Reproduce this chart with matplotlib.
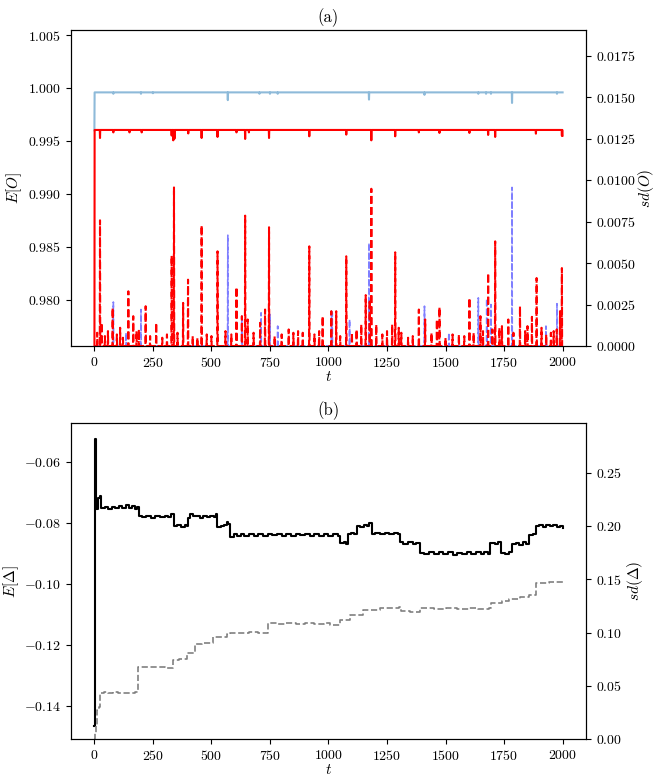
"""Two-panel twin-axis time series: E[O]/sd(O) and E[Delta]/sd(Delta)."""

import matplotlib

matplotlib.use("Agg")
import matplotlib.pyplot as plt
import numpy as np

plt.rcParams["font.family"] = "serif"
plt.rcParams["font.serif"] = ["cmr10", "DejaVu Serif"]
plt.rcParams["mathtext.fontset"] = "cm"
plt.rcParams["axes.formatter.use_mathtext"] = True
plt.rcParams["font.size"] = 10

T_MAX = 2000

# panel (a): means (left axis)
blue_mean_start = 0.9960
blue_mean_level = 0.99958
blue_dip_t = [81, 199, 250, 570, 705, 750, 783, 1173, 1410, 1640, 1673, 1694, 1784, 1976]
blue_dip_v = [0.99945, 0.99945, 0.9995, 0.99885, 0.99945, 0.99945, 0.99945,
              0.9989, 0.99935, 0.99945, 0.99945, 0.99945, 0.99858, 0.99945]

red_mean_start = 0.9700
red_mean_level = 0.99603
red_dip_t = [24, 81, 150, 202, 330, 337, 342, 401, 458, 526, 607, 644, 660, 746, 918,
             1076, 1183, 1285, 1386, 1474, 1602, 1682, 1712, 1886, 1997, 2000]
red_dip_v = [0.99527, 0.9958, 0.9958, 0.9958, 0.9955, 0.99505, 0.9952, 0.9957, 0.99527,
             0.99537, 0.9958, 0.99518, 0.9958, 0.99527, 0.99543, 0.99559, 0.99505,
             0.99543, 0.9958, 0.99575, 0.99575, 0.99556, 0.99537, 0.99568, 0.99549, 0.9955]

# panel (a): standard deviations (right axis), spikes on a zero baseline
red_sd_t = [24, 31, 78, 145, 166, 219, 264, 330, 340, 379, 400, 458, 526, 607, 630, 644,
            655, 708, 729, 746, 918, 975, 1012, 1033, 1076, 1140, 1159, 1176, 1183, 1204,
            1272, 1285, 1311, 1386, 1413, 1463, 1474, 1557, 1602, 1649, 1682, 1712, 1741,
            1768, 1818, 1869, 1889, 1910, 1962, 1989, 1997]
red_sd_v = [0.00758, 0.0014, 0.0023, 0.0033, 0.0018, 0.0024, 0.0014, 0.00545, 0.00956,
            0.0026, 0.0040, 0.00728, 0.00571, 0.00355, 0.0018, 0.00786, 0.0016, 0.0014,
            0.0022, 0.00716, 0.00601, 0.0018, 0.0021, 0.0021, 0.00541, 0.0013, 0.00307,
            0.0028, 0.00948, 0.0013, 0.0013, 0.00565, 0.0008, 0.0022, 0.0016, 0.0016,
            0.00235, 0.0007, 0.0029, 0.0018, 0.0044, 0.00631, 0.0012, 0.0016, 0.0024,
            0.00176, 0.0041, 0.0011, 0.0009, 0.0021, 0.0047]
red_sd_small_t = [12, 45, 58, 96, 110, 122, 180, 190, 238, 290, 310, 355, 420, 440, 480,
                  500, 560, 585, 680, 770, 800, 830, 850, 870, 890, 940, 960, 1050, 1100,
                  1120, 1230, 1250, 1300, 1340, 1360, 1440, 1500, 1530, 1580, 1620, 1660,
                  1700, 1730, 1790, 1840, 1850, 1930, 1950, 1975]
red_sd_small_v = [0.0008, 0.0006, 0.0009, 0.0007, 0.0011, 0.0005, 0.0009, 0.0010, 0.0006,
                  0.0005, 0.0007, 0.0008, 0.0006, 0.0005, 0.0007, 0.0006, 0.0009, 0.0007,
                  0.0008, 0.0006, 0.0007, 0.0010, 0.0008, 0.0009, 0.0008, 0.0007, 0.0009,
                  0.0006, 0.0008, 0.0010, 0.0007, 0.0009, 0.0011, 0.0005, 0.0006, 0.0008,
                  0.0005, 0.0007, 0.0006, 0.0008, 0.0009, 0.0010, 0.0011, 0.0008, 0.0009,
                  0.0012, 0.0007, 0.0008, 0.0010]

blue_sd_t = [81, 135, 199, 570, 630, 712, 750, 783, 1013, 1016, 1090, 1173, 1410, 1514,
             1640, 1676, 1694, 1784, 1929, 1976]
blue_sd_v = [0.00265, 0.0008, 0.0022, 0.00668, 0.0018, 0.0020, 0.0019, 0.0012, 0.0021,
             0.0020, 0.0016, 0.00621, 0.0024, 0.0008, 0.0029, 0.00285, 0.0025, 0.00956,
             0.0012, 0.00255]

# panel (b): E[Delta] (left axis), step knots
delta_mean_t = [0, 1, 6, 14, 22, 30, 45, 60, 75, 90, 105, 120, 135, 148, 160, 172, 182,
                192, 205, 220, 240, 260, 280, 300, 315, 328, 338, 355, 370, 385, 395, 402,
                410, 420, 435, 450, 465, 480, 495, 510, 518, 524, 540, 555, 565, 572, 580,
                595, 610, 625, 640, 660, 680, 700, 720, 740, 760, 780, 800, 820, 840, 860,
                880, 900, 920, 940, 960, 980, 1000, 1020, 1040, 1050, 1065, 1075, 1082,
                1095, 1108, 1120, 1135, 1150, 1165, 1175, 1185, 1200, 1220, 1240, 1260,
                1280, 1295, 1305, 1320, 1340, 1360, 1375, 1390, 1410, 1430, 1450, 1470,
                1490, 1510, 1530, 1550, 1570, 1590, 1610, 1630, 1650, 1665, 1680, 1692,
                1710, 1725, 1738, 1755, 1770, 1785, 1800, 1815, 1830, 1845, 1858, 1872,
                1885, 1900, 1915, 1930, 1945, 1960, 1975, 1990, 2000]
delta_mean_v = [-0.1465, -0.0525, -0.0755, -0.0718, -0.0712, -0.0752, -0.0748, -0.0756,
                -0.0747, -0.0753, -0.0745, -0.0752, -0.0742, -0.0750, -0.0744, -0.0756,
                -0.0749, -0.0776, -0.0781, -0.0777, -0.0783, -0.0778, -0.0781, -0.0776,
                -0.0780, -0.0772, -0.0812, -0.0808, -0.0813, -0.0806, -0.0812, -0.0784,
                -0.0772, -0.0779, -0.0776, -0.0784, -0.0777, -0.0781, -0.0776, -0.0781,
                -0.0772, -0.0815, -0.0810, -0.0806, -0.0796, -0.0803, -0.0845, -0.0838,
                -0.0843, -0.0838, -0.0842, -0.0837, -0.0843, -0.0838, -0.0843, -0.0837,
                -0.0841, -0.0836, -0.0842, -0.0838, -0.0843, -0.0838, -0.0841, -0.0837,
                -0.0843, -0.0838, -0.0842, -0.0837, -0.0842, -0.0838, -0.0842, -0.0866,
                -0.0862, -0.0868, -0.0838, -0.0832, -0.0836, -0.0810, -0.0813, -0.0806,
                -0.0812, -0.0802, -0.0836, -0.0833, -0.0838, -0.0832, -0.0837, -0.0833,
                -0.0838, -0.0862, -0.0868, -0.0863, -0.0870, -0.0866, -0.0898, -0.0902,
                -0.0896, -0.0903, -0.0897, -0.0901, -0.0896, -0.0904, -0.0898, -0.0902,
                -0.0897, -0.0903, -0.0897, -0.0901, -0.0896, -0.0902, -0.0866, -0.0870,
                -0.0864, -0.0900, -0.0903, -0.0896, -0.0869, -0.0866, -0.0871, -0.0864,
                -0.0869, -0.0840, -0.0836, -0.0812, -0.0808, -0.0813, -0.0806, -0.0812,
                -0.0808, -0.0814, -0.0810, -0.0818]

# panel (b): sd(Delta) (right axis)
delta_sd_t = [0, 3, 6, 10, 18, 25, 40, 60, 80, 100, 120, 140, 160, 175, 188, 220, 260,
              300, 337, 360, 394, 430, 460, 490, 507, 540, 565, 578, 620, 660, 700, 742,
              780, 820, 860, 900, 940, 980, 1005, 1048, 1090, 1147, 1218, 1260, 1300, 1311,
              1350, 1389, 1450, 1500, 1550, 1600, 1640, 1687, 1694, 1740, 1773, 1820, 1858,
              1886, 1940, 2000]
delta_sd_v = [0.0, 0.006, 0.012, 0.0275, 0.030, 0.043, 0.0445, 0.0430, 0.0440, 0.0432,
              0.0438, 0.0430, 0.0436, 0.0440, 0.068, 0.0675, 0.0678, 0.0672, 0.0745,
              0.0750, 0.081, 0.0895, 0.0900, 0.0905, 0.0960, 0.0955, 0.0990, 0.1000,
              0.0995, 0.1002, 0.0998, 0.1088, 0.1084, 0.1090, 0.1082, 0.1088, 0.1080,
              0.1087, 0.1070, 0.1120, 0.1166, 0.1210, 0.1235, 0.1230, 0.1240, 0.1200,
              0.1195, 0.1230, 0.1225, 0.1232, 0.1226, 0.1232, 0.1222, 0.1235, 0.1280,
              0.1295, 0.1320, 0.1330, 0.1350, 0.1470, 0.1475, 0.1465]


def build_series(level, start, idx, vals):
    s = np.full(T_MAX + 1, level, dtype=float)
    s[0] = start
    s[np.asarray(idx)] = vals
    return s


def spikes(pairs):
    s = np.zeros(T_MAX + 1)
    for idx, vals in pairs:
        s[np.asarray(idx)] = vals
    return s


t = np.arange(T_MAX + 1)
blue_mean = build_series(blue_mean_level, blue_mean_start, blue_dip_t, blue_dip_v)
red_mean = build_series(red_mean_level, red_mean_start, red_dip_t, red_dip_v)
red_sd = spikes([(red_sd_small_t, red_sd_small_v), (red_sd_t, red_sd_v)])
blue_sd = spikes([(blue_sd_t, blue_sd_v)])

fig = plt.figure(figsize=(6.56, 7.76), dpi=100)
ax1 = fig.add_axes([0.1082, 0.5541, 0.7851, 0.4072])
ax2 = fig.add_axes([0.1082, 0.0473, 0.7851, 0.4072])

LABEL_SIZE = 11

# (a)
ax1.plot(t, blue_mean, color="C0", alpha=0.5, lw=1.5)
ax1.plot(t, red_mean, color="r", lw=1.5)
ax1.set_xlim(-100, 2100)
ax1.set_ylim(0.97562, 1.00547)
ax1.set_xticks(np.arange(0, 2001, 250))
ax1.set_yticks(np.arange(0.980, 1.0051, 0.005))
ax1.set_xlabel("$t$", fontsize=LABEL_SIZE, labelpad=0)
ax1.set_ylabel("$E[O]$", fontsize=LABEL_SIZE, labelpad=3)
ax1.set_title("(a)", fontsize=12, pad=6)
ax1r = ax1.twinx()
ax1r.plot(t, blue_sd, color="b", alpha=0.5, ls="--", lw=1.2)
ax1r.plot(t, red_sd, color="r", ls="--", lw=1.5)
ax1r.set_ylim(0, 0.01905)
ax1r.set_yticks(np.arange(0, 0.01751, 0.0025))
ax1r.set_ylabel("$sd(O)$", fontsize=LABEL_SIZE, labelpad=0)

# (b)
ax2.plot(delta_mean_t, delta_mean_v, color="k", lw=1.5, drawstyle="steps-post")
ax2.set_xlim(-100, 2100)
ax2.set_ylim(-0.1509, -0.0474)
ax2.set_xticks(np.arange(0, 2001, 250))
ax2.set_yticks([-0.14, -0.12, -0.10, -0.08, -0.06])
ax2.set_xlabel("$t$", fontsize=LABEL_SIZE, labelpad=0)
ax2.set_ylabel(r"$E[\Delta]$", fontsize=LABEL_SIZE, labelpad=2)
ax2.set_title("(b)", fontsize=12, pad=6)
ax2r = ax2.twinx()
ax2r.plot(delta_sd_t, delta_sd_v, color="gray", ls="--", lw=1.2, drawstyle="steps-post")
ax2r.set_ylim(0, 0.2963)
ax2r.set_yticks(np.arange(0, 0.251, 0.05))
ax2r.set_ylabel(r"$sd(\Delta)$", fontsize=LABEL_SIZE, labelpad=2)

fig.savefig("out.png", dpi=100)
